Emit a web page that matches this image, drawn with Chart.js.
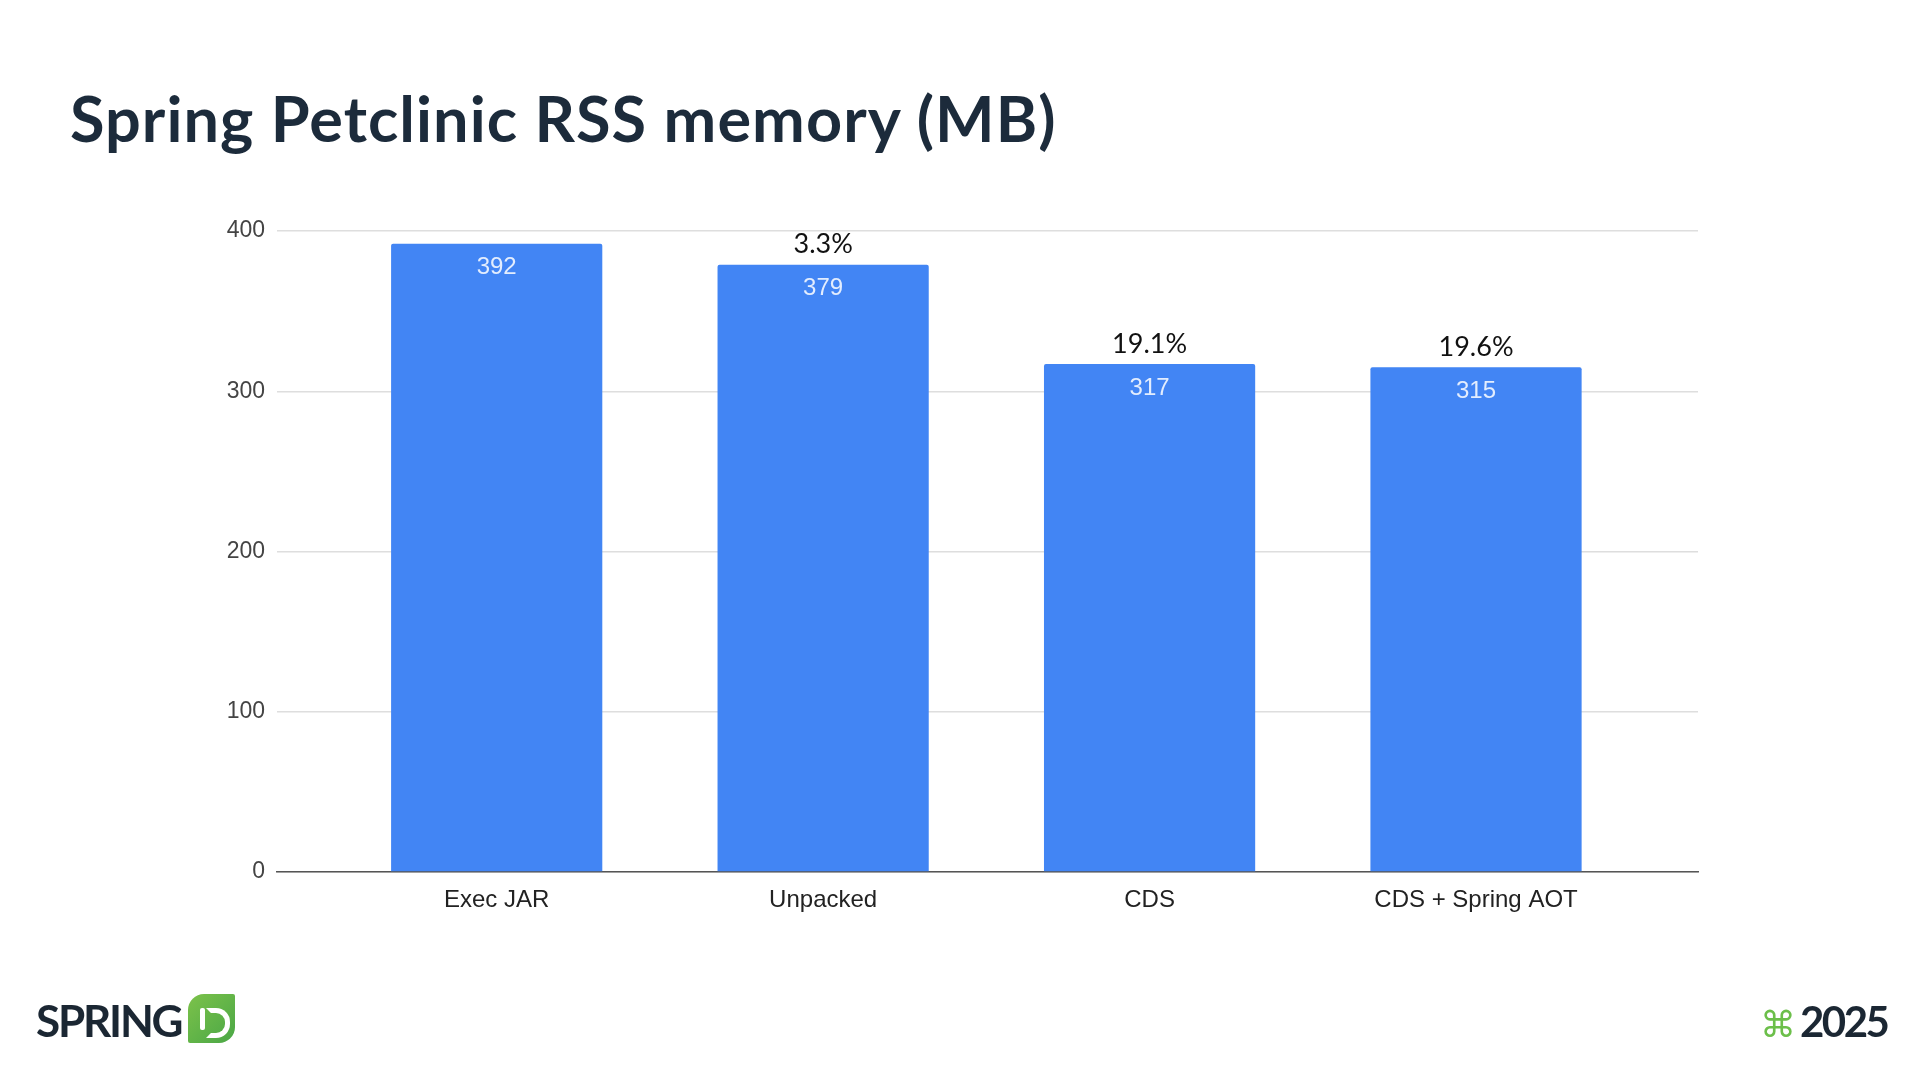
<!DOCTYPE html>
<html>
<head>
<meta charset="utf-8">
<script src="https://cdn.jsdelivr.net/npm/chart.js@4.4.1/dist/chart.umd.min.js"></script>
<style>
  html, body { margin: 0; padding: 0; background: #fff; }
  #wrap { position: relative; width: 1920px; height: 1080px; overflow: hidden; }
  #chart { position: absolute; left: 0; top: 0; }
  h1 {
    position: absolute; left: 70px; top: 86px; margin: 0;
    font-family: Lato, "Noto Sans", sans-serif; font-weight: 700;
    font-size: 63px; color: #1c2b3b; letter-spacing: 1.05px; line-height: 1;
  }
  .spring {
    position: absolute; left: 36px; top: 998px;
    font-family: Lato, sans-serif; font-weight: 700; font-size: 44px;
    color: #1b2733; letter-spacing: -2.2px; line-height: 1;
  }
  .leaf {
    position: absolute; left: 188px; top: 994px; width: 47px; height: 49px;
    background: linear-gradient(135deg, #7cc24a, #4aa746);
    border-radius: 16px 2px 16px 2px;
  }
  .leaf .bar { position: absolute; left: 12px; top: 14px; width: 5px; height: 22px; background: #fff; border-radius: 2px; }
  .leaf .arc {
    position: absolute; left: 18px; top: 14px; width: 14px; height: 20px;
    border: 5px solid #fff; border-left-color: transparent; border-radius: 0 14px 14px 0;
  }
  .year {
    position: absolute; left: 1760px; top: 1000px; line-height: 1;
    font-family: Lato, sans-serif; font-weight: 700; font-size: 42px; color: #1b2733;
    letter-spacing: -2.5px;
  }
  .year .clover { font-family: "DejaVu Sans", sans-serif; color: #6cbf4a; font-size: 36px; font-weight: 400; margin-right: 4px; letter-spacing: 0; }
</style>
</head>
<body>
<div id="wrap">
  <canvas id="chart" width="1920" height="1080"></canvas>
  <h1>Spring Petclinic RSS memory (MB)</h1>
  <div class="spring">SPRING</div>
  <div class="leaf"><div class="bar"></div><div class="arc"></div></div>
  <div class="year"><span class="clover">⌘</span>2025</div>
</div>
<script>
const categories = ["Exec JAR", "Unpacked", "CDS", "CDS + Spring AOT"];
const rssMemory = [392, 379, 317, 315];
const savings = ["", "3.3%", "19.1%", "19.6%"];
const yTicks = [0, 100, 200, 300, 400];

// value inside the bar top + saving percentage above it
const barLabels = {
  id: "barLabels",
  afterDatasetsDraw(chart) {
    const ctx = chart.ctx;
    const meta = chart.getDatasetMeta(0);
    ctx.save();
    ctx.textAlign = "center";
    ctx.textBaseline = "middle";
    meta.data.forEach((bar, i) => {
      ctx.font = "24px 'Liberation Sans', Arial, sans-serif";
      ctx.fillStyle = "rgba(255,255,255,0.85)";
      ctx.fillText(String(rssMemory[i]), bar.x, bar.y + 24);
      if (savings[i]) {
        ctx.font = "27px Lato, 'Noto Sans', sans-serif";
        ctx.fillStyle = "#111";
        ctx.fillText(savings[i], bar.x, bar.y - 20);
      }
    });
    ctx.restore();
  },
};

new Chart(document.getElementById("chart"), {
  type: "bar",
  data: {
    datasets: [
      {
        label: "RSS memory (MB)",
        data: categories.map((c, i) => ({ x: i, y: rssMemory[i] })),
        backgroundColor: "#4285f4",
        borderRadius: 2,
        borderSkipped: "bottom",
        categoryPercentage: 0.647,
        barPercentage: 1,
      },
    ],
  },
  options: {
    responsive: false,
    animation: false,
    layout: { padding: { left: 200, right: 222, top: 231, bottom: 99 } },
    plugins: {
      legend: { display: false },
      tooltip: { enabled: false },
    },
    scales: {
      x: {
        type: "linear",
        offset: false,
        min: -0.673,
        max: 3.68,
        grid: { display: false, drawTicks: false },
        border: { display: true, color: "#555", width: 1.5 },
        afterBuildTicks: (scale) => {
          scale.ticks = categories.map((c, i) => ({ value: i }));
        },
        afterFit: (scale) => {
          scale.height = 109;
        },
        ticks: {
          autoSkip: false,
          maxRotation: 0,
          padding: 14,
          color: "#222",
          font: { family: "'Liberation Sans', Arial, sans-serif", size: 24 },
          callback: (v) => categories[v],
        },
      },
      y: {
        min: 0,
        max: 400,
        afterBuildTicks: (scale) => {
          scale.ticks = yTicks.map((v) => ({ value: v }));
        },
        afterFit: (scale) => {
          scale.width = 77;
        },
        grid: { color: "#dedede", lineWidth: 1.5, drawTicks: false },
        border: { display: false },
        ticks: {
          padding: 12,
          color: "#444",
          font: { family: "'Liberation Sans', Arial, sans-serif", size: 23 },
        },
      },
    },
  },
  plugins: [barLabels],
});
</script>
</body>
</html>
